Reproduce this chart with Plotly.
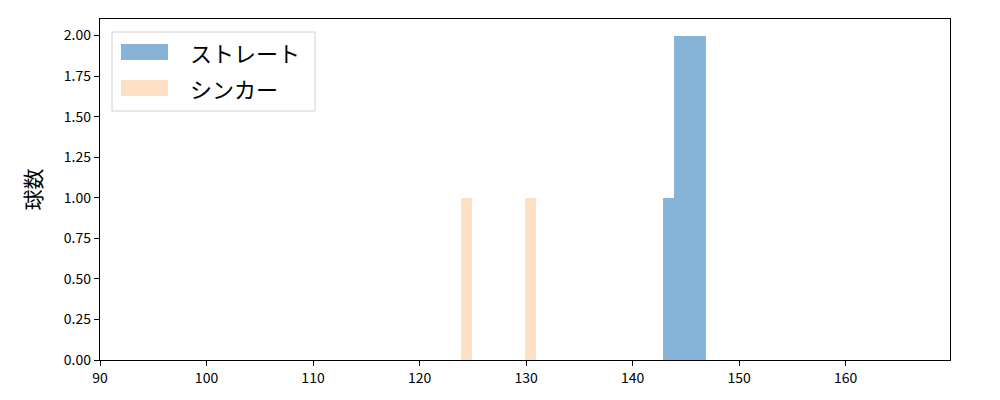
import plotly.graph_objects as go

# Data (bin left edges, bin width ~1, and counts)
straight_bins = [142.9, 143.9, 144.9, 145.9]
straight_counts = [1, 2, 2, 2]
sinker_bins = [123.9, 129.9]
sinker_counts = [1, 1]
series_names = ["ストレート", "シンカー"]
x_ticks = [90, 100, 110, 120, 130, 140, 150, 160]
y_ticks = [0, 0.25, 0.5, 0.75, 1.0, 1.25, 1.5, 1.75, 2.0]

blue = "#86b3d8"
peach = "#fde0c5"
FONT = "Noto Sans CJK JP"

fig = go.Figure()
fig.add_trace(go.Bar(x=straight_bins, y=straight_counts, width=1.01, offset=0,
                     marker=dict(color=blue, line=dict(width=0)), name=series_names[0],
                     showlegend=False))
fig.add_trace(go.Bar(x=sinker_bins, y=sinker_counts, width=1.01, offset=0,
                     marker=dict(color=peach, line=dict(width=0)), name=series_names[1],
                     showlegend=False))

L, R, T, B = 100, 50, 19, 40
W, H = 1000, 400
pw, ph = W - L - R, H - T - B

def px(x):
    return (x - L) / pw

def py(y):
    return (H - B - y) / ph

# custom legend (matplotlib style)
x0, x1, y0, y1 = px(112), px(315), py(111), py(32)
fig.add_shape(type="rect", xref="paper", yref="paper", x0=x0, x1=x1, y0=y0, y1=y1,
              line=dict(color="#d0d0d0", width=1), fillcolor="rgba(255,255,255,0.8)", layer="above")
patches = [(44, 60, blue), (80, 96, peach)]
for (ya, yb, c), name in zip(patches, series_names):
    fig.add_shape(type="rect", xref="paper", yref="paper", x0=px(121), x1=px(168),
                  y0=py(yb), y1=py(ya), line=dict(width=0), fillcolor=c, layer="above")
    fig.add_annotation(xref="paper", yref="paper", x=px(188), y=py((ya + yb) / 2),
                       text=name, showarrow=False, xanchor="left", yanchor="middle",
                       font=dict(family=FONT, size=22, color="black"))

axis_common = dict(showgrid=False, zeroline=False, showline=True, linecolor="black",
                   linewidth=1.3, mirror=True, ticks="outside", ticklen=5, tickwidth=1.2,
                   tickcolor="black", tickfont=dict(family=FONT, size=14, color="black"))

fig.update_layout(
    width=W, height=H,
    margin=dict(l=L, r=R, t=T, b=B),
    plot_bgcolor="white", paper_bgcolor="white",
    barmode="overlay", bargap=0,
    xaxis=dict(range=[90, 169.8], tickvals=x_ticks, **axis_common),
    yaxis=dict(range=[0, 2.102], tickvals=y_ticks, tickformat=".2f",
               title=dict(text="球数", font=dict(family=FONT, size=21, color="black"), standoff=16),
               **axis_common),
    font=dict(family=FONT),
)

fig.write_html("out.html", config={"displayModeBar": False},
               post_script="document.body.style.margin='0';")
